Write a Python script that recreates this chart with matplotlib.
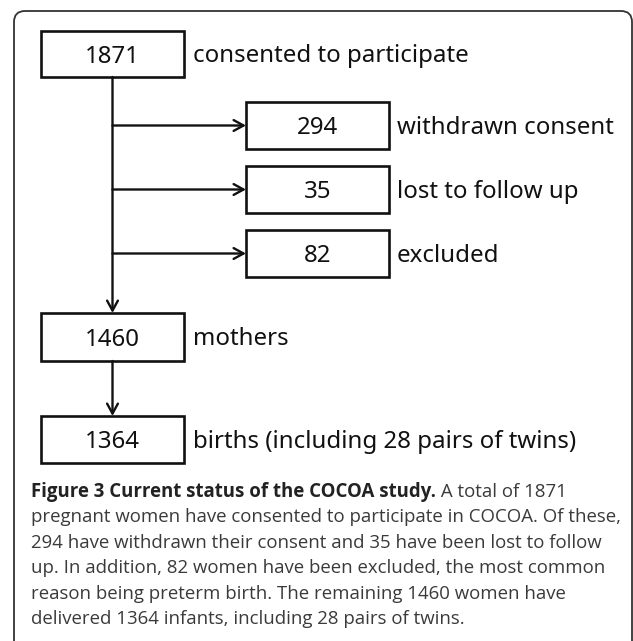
import matplotlib
matplotlib.use("Agg")
import matplotlib.pyplot as plt
from matplotlib.patches import Rectangle, FancyBboxPatch

# ---- data ----
main_counts = [1871, 1460, 1364]
main_labels = ["consented to participate", "mothers", "births (including 28 pairs of twins)"]
side_counts = [294, 35, 82]
side_labels = ["withdrawn consent", "lost to follow up", "excluded"]
caption_bold = "Figure 3 Current status of the COCOA study."
caption_lines = [
    " A total of 1871",
    "pregnant women have consented to participate in COCOA. Of these,",
    "294 have withdrawn their consent and 35 have been lost to follow",
    "up. In addition, 82 women have been excluded, the most common",
    "reason being preterm birth. The remaining 1460 women have",
    "delivered 1364 infants, including 28 pairs of twins.",
]

W, H = 633, 641
fig = plt.figure(figsize=(W / 100, H / 100), dpi=100)
ax = fig.add_axes([0, 0, 1, 1])
ax.set_xlim(0, W)
ax.set_ylim(H, 0)
ax.axis("off")

FONT = "Noto Sans"
ink = "#111111"
FS = 17.3

# outer rounded frame
frame = FancyBboxPatch((14, 11), 618, 680, boxstyle="round,pad=0,rounding_size=11",
                       fill=False, ec="#333333", lw=1.3)
ax.add_patch(frame)

arrow_kw = dict(arrowstyle="->,head_length=0.55,head_width=0.3", lw=1.7, color=ink,
                shrinkA=0, shrinkB=0, mutation_scale=13)

# main boxes
main_x0, main_x1 = 41, 184
main_y = [(31, 77), (313, 361), (416, 463)]
cx = (main_x0 + main_x1) / 2
for (y0, y1), n, lab in zip(main_y, main_counts, main_labels):
    ax.add_patch(Rectangle((main_x0, y0), main_x1 - main_x0, y1 - y0, fill=False, ec=ink, lw=1.9))
    ax.text(cx, (y0 + y1) / 2 + 3, str(n), ha="center", va="center", fontsize=FS, family=FONT, color=ink)
    ax.text(main_x1 + 9, (y0 + y1) / 2 + 2, lab, ha="left", va="center", fontsize=FS, family=FONT, color=ink)

# side boxes
side_x0, side_x1 = 246, 389
side_y = [(102, 149), (166, 213), (230, 277)]
for (y0, y1), n, lab in zip(side_y, side_counts, side_labels):
    ax.add_patch(Rectangle((side_x0, y0), side_x1 - side_x0, y1 - y0, fill=False, ec=ink, lw=1.9))
    ax.text((side_x0 + side_x1) / 2, (y0 + y1) / 2 + 3, str(n), ha="center", va="center",
            fontsize=FS, family=FONT, color=ink)
    ax.text(side_x1 + 8, (y0 + y1) / 2 + 2, lab, ha="left", va="center", fontsize=FS, family=FONT, color=ink)
    ym = (y0 + y1) / 2
    ax.annotate("", xy=(side_x0, ym), xytext=(cx, ym), arrowprops=arrow_kw)

# vertical connectors
ax.annotate("", xy=(cx, main_y[1][0]), xytext=(cx, main_y[0][1]), arrowprops=arrow_kw)
ax.annotate("", xy=(cx, main_y[2][0]), xytext=(cx, main_y[1][1]), arrowprops=arrow_kw)

# caption
cap_x, cap_y0, cap_dy = 31, 492, 25.4
CAPFONT = "Open Sans"
CFS = 13.45
fig.canvas.draw()
r = fig.canvas.get_renderer()
tb = ax.text(cap_x, cap_y0, caption_bold, ha="left", va="center", fontsize=CFS, family=CAPFONT,
             weight="bold", color="#222222")
bb = tb.get_window_extent(renderer=r)
inv = ax.transData.inverted()
x_end = inv.transform((bb.x1, bb.y0))[0]
for i, line in enumerate(caption_lines):
    x = x_end if i == 0 else cap_x
    ax.text(x, cap_y0 + i * cap_dy, line, ha="left", va="center", fontsize=CFS, family=CAPFONT,
            color="#3a3a3a")

fig.savefig("out.png", dpi=100)
